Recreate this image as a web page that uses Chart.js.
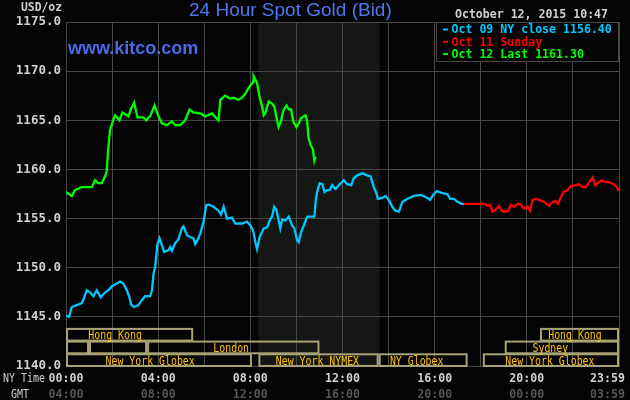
<!DOCTYPE html>
<html>
<head>
<meta charset="utf-8">
<script src="https://cdn.jsdelivr.net/npm/chart.js@4/dist/chart.umd.min.js"></script>
<style>
  html, body { margin:0; padding:0; background:#040404; }
  #wrap { width:630px; height:400px; position:relative; }
</style>
</head>
<body>
<div id="wrap"><canvas id="c" width="630" height="400"></canvas></div>
<script>
// ---- Data ----
const titleText = '24 Hour Spot Gold (Bid)';
const dateText = 'October 12, 2015 10:47';
const siteText = 'www.kitco.com';
const unitText = 'USD/oz';

const seriesLabels = ['Oct 09 NY close 1156.40', 'Oct 11 Sunday', 'Oct 12 Last 1161.30'];
const seriesColors = ['#00c8ff', '#ff0000', '#00ff00'];

// Oct 09 (NY time hours, price)
const hoursOct09 = [0.00,0.14,0.25,0.47,0.68,0.75,0.90,1.04,1.19,1.33,1.51,1.70,1.88,1.99,2.13,2.35,2.49,2.64,2.75,2.83,2.96,3.14,3.29,3.43,3.65,3.73,3.80,3.87,3.97,4.06,4.16,4.26,4.45,4.52,4.60,4.74,4.88,5.03,5.10,5.25,5.39,5.53,5.61,5.71,5.83,5.97,6.09,6.23,6.40,6.62,6.73,6.84,6.99,7.20,7.35,7.64,7.86,8.00,8.12,8.22,8.29,8.40,8.58,8.73,8.84,8.94,9.04,9.13,9.23,9.30,9.38,9.52,9.67,9.81,9.91,10.03,10.10,10.20,10.32,10.47,10.68,10.78,10.83,10.90,11.01,11.12,11.22,11.33,11.45,11.55,11.70,11.88,12.06,12.20,12.38,12.49,12.64,12.86,13.07,13.22,13.36,13.48,13.53,13.73,13.87,14.01,14.16,14.30,14.45,14.60,14.81,15.10,15.39,15.61,15.80,15.94,16.09,16.33,16.55,16.67,16.84,16.99,17.16,17.27];
const pricesOct09 = [1145.1,1145.0,1146.0,1146.2,1146.4,1146.7,1147.7,1147.5,1147.1,1147.7,1147.0,1147.5,1147.8,1148.1,1148.3,1148.6,1148.4,1147.7,1147.0,1146.2,1146.0,1146.2,1146.7,1147.1,1147.1,1147.7,1149.4,1150.1,1152.4,1153.0,1152.3,1151.6,1151.8,1152.1,1151.7,1152.5,1152.9,1154.0,1154.2,1153.3,1153.1,1153.0,1152.4,1152.8,1153.5,1154.7,1156.4,1156.4,1156.2,1155.8,1155.4,1156.2,1155.0,1155.1,1154.5,1154.5,1154.7,1154.3,1153.8,1152.6,1151.9,1153.1,1154.0,1154.1,1154.8,1155.2,1156.2,1155.9,1154.8,1154.0,1154.9,1154.8,1155.2,1154.3,1154.0,1152.8,1152.6,1153.6,1154.3,1155.2,1155.2,1155.2,1156.7,1157.7,1158.6,1158.5,1157.7,1157.9,1157.9,1158.4,1158.0,1158.5,1158.9,1158.5,1158.4,1159.1,1159.4,1159.6,1159.4,1159.3,1158.2,1157.5,1157.0,1157.1,1157.3,1156.9,1156.2,1155.8,1155.7,1156.7,1157.0,1157.3,1157.4,1157.2,1156.9,1157.4,1157.8,1157.6,1157.5,1157.0,1157.0,1156.7,1156.5,1156.5];

// Oct 11 Sunday
const hoursOct11 = [17.27,18.00,18.14,18.29,18.40,18.51,18.65,18.80,18.90,19.01,19.19,19.30,19.45,19.62,19.74,19.88,20.03,20.14,20.25,20.39,20.53,20.75,20.97,21.07,21.22,21.36,21.48,21.60,21.77,21.91,22.13,22.27,22.42,22.57,22.71,22.86,22.96,23.07,23.25,23.43,23.57,23.77,23.91,23.98];
const pricesOct11 = [1156.5,1156.5,1156.5,1156.3,1156.4,1155.7,1155.9,1156.3,1155.8,1155.7,1155.8,1156.4,1156.2,1156.5,1156.4,1156.0,1156.2,1155.8,1156.9,1157.0,1156.9,1156.7,1156.3,1156.6,1156.8,1156.5,1157.2,1157.7,1157.9,1158.3,1158.4,1158.5,1158.2,1158.2,1158.7,1159.2,1158.4,1158.6,1158.9,1158.7,1158.7,1158.5,1158.2,1157.8];

// Oct 12
const hoursOct12 = [0.00,0.25,0.39,0.68,1.12,1.26,1.40,1.55,1.70,1.77,1.84,1.91,2.03,2.13,2.32,2.45,2.71,2.81,2.96,3.10,3.36,3.48,3.65,3.84,4.01,4.16,4.38,4.60,4.74,4.96,5.17,5.36,5.53,5.83,6.04,6.33,6.62,6.70,6.91,7.13,7.27,7.49,7.64,7.78,7.93,8.12,8.14,8.29,8.40,8.51,8.58,8.65,8.73,8.80,8.94,9.04,9.16,9.23,9.33,9.42,9.57,9.67,9.77,9.86,10.00,10.10,10.20,10.39,10.46,10.53,10.61,10.71,10.78,10.83];
const pricesOct12 = [1157.7,1157.3,1157.9,1158.2,1158.2,1158.9,1158.6,1158.6,1159.3,1159.9,1162.3,1164.0,1164.9,1165.5,1165.0,1165.8,1165.4,1166.1,1166.8,1165.3,1165.3,1165.0,1165.4,1166.5,1165.4,1164.7,1164.5,1164.9,1164.5,1164.5,1165.0,1166.1,1165.8,1165.7,1165.4,1165.7,1165.0,1167.1,1167.5,1167.2,1167.3,1167.1,1167.3,1167.7,1168.3,1168.9,1169.5,1168.8,1167.4,1166.4,1165.5,1165.7,1166.4,1166.9,1166.7,1166.4,1165.0,1164.3,1164.9,1165.9,1166.5,1166.1,1166.1,1164.9,1164.3,1164.7,1165.2,1165.5,1165.0,1163.2,1162.5,1162.1,1160.9,1161.3];

// Axis ticks
const xTickHours = [0, 4, 8, 12, 16, 20, 24];
const xTickNY = ['00:00', '04:00', '08:00', '12:00', '16:00', '20:00', '23:59'];
const xTickGMT = ['04:00', '08:00', '12:00', '16:00', '20:00', '00:00', '03:59'];
const yMin = 1140, yMax = 1175, yStep = 5;

// NYMEX shaded period (hours)
const nymexStart = 8.35, nymexEnd = 13.6;

// Market sessions: label, start hour, end hour, row (0 = bottom), text centre hour
const sessionLabels = ['New York Globex', 'New York NYMEX', 'NY Globex', 'New York Globex', '', '', 'London', 'Sydney', 'Hong Kong', 'Hong Kong'];
const sessionStart  = [0, 8.35, 13.57, 18.09, 0, 1.0, 3.52, 19.04, 0, 20.57];
const sessionEnd    = [8.07, 13.57, 17.43, 24, 1.0, 3.52, 11.0, 24, 5.52, 24];
const sessionRow    = [0, 0, 0, 0, 1, 1, 1, 1, 2, 2];
const sessionTextAt = [3.65, 10.91, 15.22, 21.0, 0, 0, 7.17, 21.02, 2.13, 22.09];

// ---- Chart ----
const MONO = '"DejaVu Sans Mono", "Liberation Mono", monospace';
const BG = '#040404';
const GRID = '#474747';

function pts(h, p) { return h.map((x, i) => ({ x: x, y: p[i] })); }

const bgPlugin = {
  id: 'bg',
  beforeDraw(chart) {
    const { ctx, chartArea: a, scales: { x } } = chart;
    ctx.save();
    ctx.fillStyle = BG;
    ctx.fillRect(0, 0, chart.width, chart.height);
    ctx.fillStyle = '#141714';
    const x0 = x.getPixelForValue(nymexStart), x1 = x.getPixelForValue(nymexEnd);
    ctx.fillRect(x0, a.top, x1 - x0, a.bottom - a.top);
    ctx.restore();
  }
};

const decoPlugin = {
  id: 'deco',
  afterDatasetsDraw(chart) {
    const { ctx, chartArea: a, scales: { x, y } } = chart;
    ctx.save();
    // sessions
    const rowH = 12.7;
    ctx.lineWidth = 2;
    ctx.strokeStyle = '#a8a274';
    ctx.font = '13px ' + MONO;
    ctx.fillStyle = '#ffc400';
    ctx.textAlign = 'center';
    ctx.textBaseline = 'middle';
    for (let i = 0; i < sessionLabels.length; i++) {
      const x0 = x.getPixelForValue(sessionStart[i]);
      const x1 = Math.min(x.getPixelForValue(sessionEnd[i]), a.right);
      const yb = a.bottom - rowH * sessionRow[i];
      const yt = yb - rowH;
      ctx.strokeRect(x0 + 1, yt + 1, x1 - x0 - 2, rowH - 1);
      if (sessionLabels[i]) {
        const tx = x.getPixelForValue(sessionTextAt[i]);
        ctx.fillText(sessionLabels[i], tx, (yt + yb) / 2 + 1.5, sessionLabels[i].length * 5.95);
      }
    }
    ctx.restore();
  },
  afterDraw(chart) {
    const { ctx, chartArea: a, scales: { x } } = chart;
    ctx.save();
    // title
    ctx.fillStyle = '#5078f0';
    ctx.font = '19px "Liberation Sans", Arial, sans-serif';
    ctx.textAlign = 'left';
    ctx.textBaseline = 'middle';
    ctx.fillText(titleText, 189, 11, 209);
    // site
    ctx.fillStyle = '#4a6ae8';
    ctx.font = 'bold 18px "Liberation Sans", Arial, sans-serif';
    ctx.fillText(siteText, 68, 49, 133);
    // date
    ctx.fillStyle = '#d0d0d0';
    ctx.font = 'bold 12px ' + MONO;
    ctx.fillText(dateText, 455, 15, 153);
    // unit
    ctx.textAlign = 'right';
    ctx.fillText(unitText, 62, 8, 41);
    // legend box
    const lx = 436, ly = a.top, lw = a.right - 436, lh = 61 - a.top;
    ctx.fillStyle = BG;
    ctx.fillRect(lx, ly, lw, lh);
    ctx.strokeStyle = GRID;
    ctx.lineWidth = 1;
    ctx.strokeRect(lx + 0.5, ly + 0.5, lw - 1, lh);
    ctx.textAlign = 'left';
    ctx.font = 'bold 12.5px ' + MONO;
    for (let i = 0; i < seriesLabels.length; i++) {
      const yy = 29.5 + i * 12.3;
      ctx.fillStyle = seriesColors[i];
      ctx.fillRect(443, yy - 1, 5, 2);
      ctx.fillText(seriesLabels[i], 451.5, yy + 0.5, seriesLabels[i].length * 6.97);
    }
    // x labels
    ctx.font = 'bold 12.5px ' + MONO;
    ctx.textAlign = 'center';
    for (let i = 0; i < xTickHours.length; i++) {
      let px = x.getPixelForValue(xTickHours[i]);
      if (px > 600) px = 607.5;
      ctx.fillStyle = '#d0d0d0';
      ctx.fillText(xTickNY[i], px, 379, 35);
      ctx.fillStyle = '#555555';
      ctx.fillText(xTickGMT[i], px, 394.5, 35);
    }
    ctx.font = '12.5px ' + MONO;
    ctx.fillStyle = '#d0d0d0';
    ctx.fillText('NY Time', 24, 379, 42);
    ctx.fillText('GMT', 20, 394.5, 18);
    ctx.restore();
  }
};

new Chart(document.getElementById('c'), {
  type: 'line',
  data: {
    datasets: [
      { label: seriesLabels[0], data: pts(hoursOct09, pricesOct09), borderColor: seriesColors[0] },
      { label: seriesLabels[1], data: pts(hoursOct11, pricesOct11), borderColor: seriesColors[1] },
      { label: seriesLabels[2], data: pts(hoursOct12, pricesOct12), borderColor: seriesColors[2] }
    ]
  },
  options: {
    responsive: false,
    animation: false,
    devicePixelRatio: 1,
    layout: { padding: { left: 0, top: 22, right: 11, bottom: 0 } },
    elements: {
      line: { borderWidth: 2.3, tension: 0, fill: false },
      point: { radius: 0, hoverRadius: 0 }
    },
    plugins: { legend: { display: false }, tooltip: { enabled: false }, title: { display: false } },
    scales: {
      x: {
        type: 'linear', min: 0, max: 24,
        ticks: { display: false, stepSize: 2 },
        grid: { color: GRID, lineWidth: 1, drawTicks: false },
        border: { color: GRID },
        afterFit(s) { s.height = 34; }
      },
      y: {
        min: yMin, max: yMax,
        ticks: {
          stepSize: yStep,
          color: '#d0d0d0',
          font: { family: MONO, size: 12.5, weight: 'bold' },
          padding: 5,
          callback: v => v.toFixed(1)
        },
        grid: { color: GRID, lineWidth: 1, drawTicks: false },
        border: { color: GRID },
        afterFit(s) { s.width = 66; }
      }
    }
  },
  plugins: [bgPlugin, decoPlugin]
});
</script>
</body>
</html>
